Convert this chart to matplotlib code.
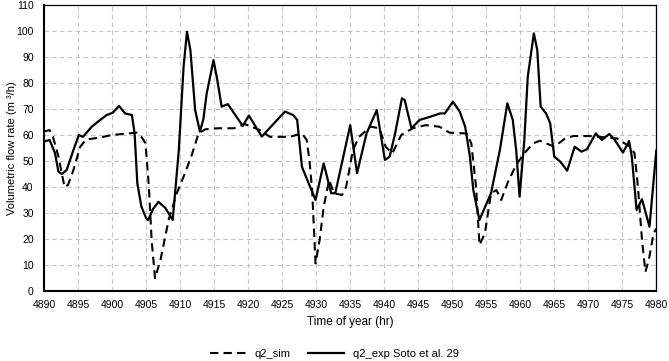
import matplotlib
matplotlib.use("Agg")
import matplotlib.pyplot as plt

plt.rcParams["font.family"] = ["Liberation Sans", "DejaVu Sans"]

# q2_exp (Soto et al.)
t_exp = [4889.9, 4890.8, 4891.6, 4892.1, 4892.6, 4893.3, 4894.3, 4895.1, 4895.7,
         4897.0, 4897.9, 4899.2, 4900.1, 4901.0, 4901.9, 4902.9, 4903.3, 4903.7,
         4904.3, 4905.0, 4905.3, 4906.0, 4906.8, 4907.8, 4908.9, 4909.8, 4910.5,
         4911.0, 4911.5, 4912.2, 4912.9, 4913.4, 4913.9, 4914.9, 4915.4, 4916.1,
         4917.0, 4919.2, 4920.1, 4922.0, 4923.8, 4925.4, 4926.6, 4927.2, 4927.9,
         4928.8, 4929.9, 4931.1, 4932.2, 4932.8, 4935.0, 4936.0, 4937.4, 4938.9,
         4940.1, 4940.8, 4941.6, 4942.6, 4943.0, 4944.0, 4945.2, 4946.5, 4948.2,
         4948.9, 4950.1, 4951.1, 4951.9, 4952.6, 4953.1, 4954.0, 4955.7, 4957.0,
         4958.1, 4958.9, 4959.4, 4959.9, 4960.6, 4961.1, 4962.0, 4962.5, 4963.0,
         4963.8, 4964.4, 4965.0, 4965.9, 4966.9, 4968.0, 4969.0, 4969.8, 4971.1,
         4972.0, 4973.1, 4973.9, 4975.1, 4976.0, 4976.4, 4977.1, 4977.9, 4979.0,
         4980.0]
q_exp = [57.4, 58.1, 53.0, 45.9, 45.0, 46.5, 54.2, 60.0, 59.3,
         63.2, 65.1, 67.7, 68.6, 71.2, 68.3, 67.7, 60.6, 41.4,
         32.4, 28.0, 27.3, 31.5, 34.3, 32.0, 27.3, 54.2, 86.3,
         99.7, 92.7, 69.6, 61.3, 66.0, 76.0, 88.8, 82.0, 70.9,
         71.9, 63.5, 67.5, 59.4, 64.5, 69.0, 67.7, 65.8, 47.8,
         42.0, 35.0, 49.1, 37.6, 37.6, 63.8, 45.3, 60.6, 69.6,
         50.4, 51.7, 60.6, 74.1, 73.5, 62.6, 65.8, 66.8, 68.3,
         68.3, 72.8, 69.0, 63.2, 51.7, 38.8, 27.3, 37.6, 54.2,
         72.2, 65.8, 54.2, 36.3, 58.1, 82.4, 99.1, 92.7, 70.9,
         68.3, 64.5, 51.7, 49.7, 46.3, 55.5, 53.6, 54.5, 60.6,
         58.1, 60.4, 58.1, 53.2, 57.7, 51.7, 31.2, 35.3, 24.7,
         54.0]

# q2_sim
t_sim = [4889.9, 4890.8, 4891.3, 4892.1, 4893.0, 4893.5, 4894.3, 4895.3, 4896.2,
         4898.2, 4899.9, 4901.6, 4903.6, 4904.3, 4904.9, 4905.4, 4905.8, 4906.3,
         4907.1, 4908.3, 4909.5, 4910.7, 4911.7, 4912.7, 4913.7, 4915.6, 4917.9,
         4919.5, 4921.7, 4923.2, 4926.1, 4927.9, 4928.6, 4929.0, 4929.4, 4929.9,
         4930.5, 4931.1, 4931.9, 4932.6, 4933.8, 4934.4, 4935.4, 4936.3, 4938.0,
         4939.3, 4940.2, 4941.2, 4942.5, 4944.2, 4946.1, 4948.1, 4949.6, 4952.1,
         4952.8, 4953.5, 4954.0, 4954.8, 4955.7, 4956.5, 4957.2, 4958.2, 4959.4,
         4960.6, 4961.9, 4962.9, 4963.8, 4965.0, 4966.6, 4967.8, 4970.2, 4974.2,
         4976.1, 4976.8, 4977.3, 4977.9, 4978.4, 4978.9, 4979.6, 4980.0]
q_sim = [61.3, 61.9, 59.3, 51.7, 39.9, 40.8, 46.5, 55.5, 58.3,
         59.0, 60.0, 60.4, 60.9, 59.3, 56.8, 40.1, 19.6, 4.9,
         11.9, 27.3, 37.6, 45.3, 52.3, 60.6, 62.2, 62.6, 62.6,
         64.2, 61.9, 59.3, 59.3, 60.6, 58.1, 50.4, 38.8, 10.6,
         19.6, 32.4, 42.7, 37.6, 36.9, 40.1, 54.2, 59.3, 63.2,
         62.6, 55.5, 53.0, 60.0, 62.6, 63.8, 63.2, 60.9, 60.6,
         56.8, 40.1, 17.7, 22.2, 37.6, 38.8, 35.0, 42.0, 48.5,
         53.0, 56.8, 57.8, 56.8, 55.5, 58.7, 59.6, 59.6, 58.7,
         55.5, 53.0, 40.1, 19.6, 7.4, 11.9, 22.2, 24.0]

x_ticks = list(range(4890, 4981, 5))
y_ticks = list(range(0, 111, 10))


def main():
    fig = plt.figure(figsize=(6.69, 3.61), dpi=100)
    ax = fig.add_axes([0.066, 0.194, 0.915, 0.792])

    ax.plot(t_sim, q_sim, color="black", lw=1.5, linestyle=(0, (4, 2.5)),
            label="q2_sim", zorder=3)
    ax.plot(t_exp, q_exp, color="black", lw=1.6, label="q2_exp Soto et al. 29",
            zorder=4)

    ax.set_xlim(4890, 4980)
    ax.set_ylim(0, 110)
    ax.set_xticks(x_ticks)
    ax.set_yticks(y_ticks)
    ax.tick_params(axis="x", length=0, labelsize=7.5, pad=6.5)
    ax.tick_params(axis="y", length=0, labelsize=7.5, pad=7.5)
    ax.grid(True, color="#c4c4c4", linestyle=(0, (4, 3)), linewidth=0.8, zorder=1)

    for side in ["left", "bottom"]:
        ax.spines[side].set_linewidth(1.5)
    for side in ["top", "right"]:
        ax.spines[side].set_linewidth(0.9)

    ax.set_xlabel("Time of year (hr)", fontsize=8.5, labelpad=4)
    ax.set_ylabel("Volumetric flow rate (m \u00b3/h)", fontsize=8)
    ax.yaxis.set_label_coords(-0.045, 0.5)

    fig.legend(loc="lower center", bbox_to_anchor=(0.5, -0.022), ncol=2,
               frameon=False, fontsize=8, handlelength=3.2, columnspacing=1.6)

    fig.savefig("out.png", dpi=100)
    plt.close(fig)


if __name__ == "__main__":
    main()
